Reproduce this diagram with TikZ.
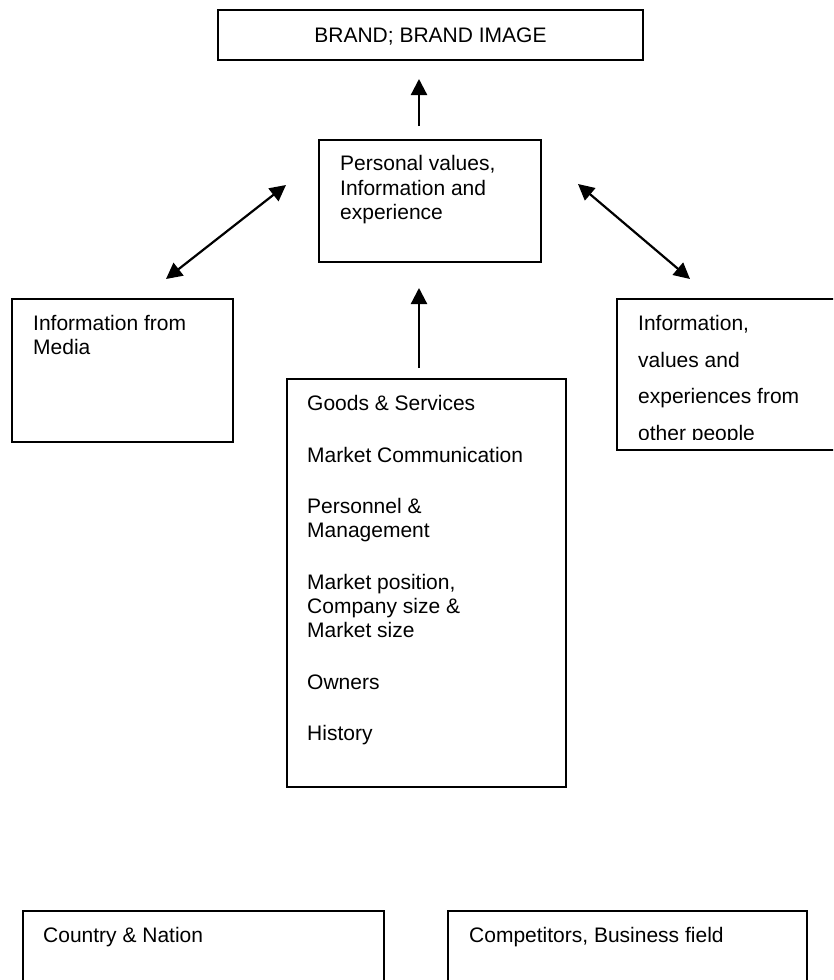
\documentclass[tikz,border=0pt]{standalone}
\usepackage{fontspec}
\setmainfont{Liberation Sans}
\usetikzlibrary{arrows.meta}
\begin{document}
\begin{tikzpicture}[x=1pt,y=-1pt,
  box/.style={draw, line width=1.8pt, rectangle, inner sep=0pt, outer sep=0pt, anchor=north west, fill=white},
  txt/.style={font=\fontsize{21}{24.5}\selectfont, inner sep=0pt, anchor=base west},
  arr/.style={line width=2.2pt, -{Triangle[length=16pt,width=16pt]}},
  darr/.style={line width=2.2pt, {Triangle[length=16pt,width=16pt]}-{Triangle[length=16pt,width=16pt]}}]
\clip (0,0) rectangle (833,980);
\fill[white] (0,0) rectangle (833,980);

% boxes
\node[box, minimum width=425pt, minimum height=50pt] (brand) at (218,10) {};
\node[box, minimum width=222pt, minimum height=122pt] (pers) at (319,140) {};
\node[box, minimum width=221pt, minimum height=143pt] (media) at (12,299) {};
\node[box, minimum width=228pt, minimum height=151pt] (others) at (617,299) {};
\node[box, minimum width=279pt, minimum height=408pt] (goods) at (287,379) {};
\node[box, minimum width=361pt, minimum height=100pt] (country) at (23,911) {};
\node[box, minimum width=359pt, minimum height=100pt] (comp) at (448,911) {};

% texts
\node[txt, anchor=base] (brandt) at (430.5,42.5) {BRAND; BRAND IMAGE};

\node[txt] (pers1) at (340,170.5) {Personal values,};
\node[txt] (pers2) at (340,195) {Information and};
\node[txt] (pers3) at (340,219.5) {experience};

\node[txt] (media1) at (33,330.5) {Information from};
\node[txt] (media2) at (33,354.5) {Media};

\begin{scope}
\clip (617,299) rectangle (833,439);
\node[txt] (oth1) at (638,330.5) {Information,};
\node[txt] (oth2) at (638,367) {values and};
\node[txt] (oth3) at (638,403.5) {experiences from};
\node[txt] (oth4) at (638,440.5) {other people};
\end{scope}

\foreach \t/\y [count=\i] in {Goods \& Services/410.5, Market Communication/462.5,
  Personnel \&/513.5, Management/537.5, {Market position,}/589.5,
  Company size \&/613.5, Market size/637.5, Owners/689.5, History/740.5}
  \node[txt] (goods\i) at (307,\y) {\t};

\node[txt] (countryt) at (43,942.5) {Country \& Nation};
\node[txt] (compt) at (469,942.5) {Competitors, Business field};

% connectors
\coordinate (upA) at (419,126);
\coordinate (upAt) at (419,79);
\draw[arr] (upA) -- (upAt);

\coordinate (upB) at (419,368);
\coordinate (upBt) at (419,288);
\draw[arr] (upB) -- (upBt);

\coordinate (leftLo) at (166,279);
\coordinate (leftHi) at (286,185);
\draw[darr] (leftLo) -- (leftHi);

\coordinate (rightHi) at (578,184);
\coordinate (rightLo) at (690,279);
\draw[darr] (rightHi) -- (rightLo);
\end{tikzpicture}
\end{document}
